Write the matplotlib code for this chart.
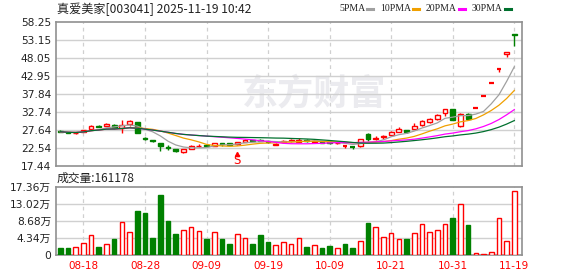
import matplotlib
matplotlib.use('Agg')
import matplotlib.pyplot as plt
import numpy as np
import pandas as pd
from matplotlib.lines import Line2D

W, H = 578, 276

stock_title = "真爱美家[003041] 2025-11-19 10:42"
dates = ["08-13", "08-14", "08-15", "08-18", "08-19", "08-20", "08-21", "08-22", "08-25", "08-26",
         "08-27", "08-28", "08-29", "09-01", "09-02", "09-03", "09-04", "09-05", "09-08", "09-09",
         "09-10", "09-11", "09-12", "09-15", "09-16", "09-17", "09-18", "09-19", "09-22", "09-23",
         "09-24", "09-25", "09-26", "09-29", "09-30", "10-09", "10-10", "10-13", "10-14", "10-15",
         "10-16", "10-17", "10-20", "10-21", "10-22", "10-23", "10-24", "10-27", "10-28", "10-29",
         "10-30", "10-31", "11-10", "11-11", "11-12", "11-13", "11-14", "11-17", "11-18", "11-19"]

opens = [27.35, 26.9, 26.6, 27.1, 27.8, 28.6, 28.8, 28.9, 28.0, 29.2,
         29.8, 25.3, 24.6, 23.8, 22.65, 22.0, 21.35, 22.1, 22.9, 23.15,
         23.0, 23.75, 23.7, 23.5, 24.2, 24.55, 24.6, 24.3, 23.4, 24.0,
         24.3, 24.2, 24.55, 24.2, 24.1, 24.0, 23.7, 23.0, 22.8, 22.9,
         26.5, 25.1, 25.5, 26.0, 27.1, 27.5, 27.8, 28.9, 29.7, 30.7,
         32.4, 33.4, 28.55, 31.95, 33.8, 37.2, 41.0, 44.96, 49.15, 54.9]
highs = [27.45, 26.95, 26.9, 27.6, 28.95, 28.85, 29.4, 29.25, 30.4, 30.4,
         29.8, 25.6, 24.75, 23.85, 23.3, 22.05, 22.2, 23.2, 23.45, 23.3,
         23.8, 23.8, 23.75, 24.15, 25.1, 24.6, 25.0, 24.35, 23.7, 24.6,
         25.1, 25.2, 24.9, 24.7, 24.2, 24.1, 23.85, 23.05, 22.85, 25.0,
         26.6, 25.8, 26.1, 27.2, 28.3, 27.6, 29.4, 30.4, 30.9, 31.95,
         33.65, 33.4, 32.5, 32.24, 33.8, 37.2, 41.0, 45.0, 49.8, 54.9]
lows = [26.95, 26.6, 26.4, 27.0, 27.75, 28.3, 28.7, 27.9, 26.8, 28.7,
        26.8, 24.6, 24.25, 21.7, 21.9, 21.4, 21.1, 22.0, 22.8, 22.9,
        22.95, 23.1, 23.3, 23.4, 24.1, 24.3, 24.3, 23.9, 23.3, 23.95,
        24.2, 24.1, 24.2, 23.7, 23.8, 23.6, 23.6, 22.3, 22.2, 22.8,
        24.4, 24.7, 25.0, 25.95, 27.0, 26.7, 27.7, 28.65, 29.5, 30.35,
        31.6, 30.25, 28.5, 30.35, 33.8, 37.2, 41.0, 43.9, 48.3, 51.4]
closes = [27.05, 26.7, 26.75, 27.45, 28.75, 28.5, 29.3, 28.1, 29.0, 30.0,
          26.8, 24.95, 24.4, 23.1, 22.5, 21.45, 22.1, 23.1, 23.1, 22.95,
          23.75, 23.6, 23.4, 24.0, 24.8, 24.4, 24.4, 24.0, 23.6, 24.5,
          24.6, 24.6, 24.3, 24.3, 23.9, 23.7, 23.8, 23.0, 22.75, 24.95,
          25.0, 25.3, 25.7, 27.1, 27.9, 26.9, 28.6, 30.0, 30.6, 31.7,
          33.4, 30.25, 32.15, 30.7, 33.8, 37.2, 41.0, 45.0, 49.75, 54.6]
# volume in 万 (10k)
volumes = [1.85, 1.85, 2.0, 3.1, 5.1, 2.1, 2.85, 4.1, 8.4, 5.9,
           11.2, 10.7, 4.35, 15.2, 8.65, 5.45, 6.4, 7.15, 6.15, 4.1,
           5.9, 4.1, 2.95, 5.4, 4.35, 2.95, 5.1, 3.45, 2.6, 3.35,
           2.85, 4.45, 2.0, 2.7, 1.75, 2.25, 1.95, 2.8, 1.75, 3.7,
           8.05, 7.25, 4.7, 5.7, 4.2, 4.05, 5.7, 8.0, 5.95, 6.5,
           8.0, 9.35, 13.0, 7.55, 0.5, 0.25, 0.9, 9.5, 3.7, 16.1178]
vol_up = [0, 0, 1, 1, 1, 0, 1, 0, 1, 1,
          0, 0, 0, 0, 0, 0, 1, 1, 1, 0,
          1, 0, 0, 1, 1, 0, 0, 0, 1, 1,
          1, 1, 0, 1, 0, 0, 1, 0, 0, 1,
          0, 1, 1, 1, 1, 0, 1, 1, 1, 1,
          1, 0, 1, 0, 1, 1, 1, 1, 1, 1]
last_volume_label = "成交量:161178"

ma_periods = [5, 10, 20, 30]
ma_names = ["5PMA", "10PMA", "20PMA", "30PMA"]
ma_colors = ["#a0a0a0", "#f0a000", "#ff00ff", "#00702e"]

price_ticks = [17.44, 22.54, 27.64, 32.74, 37.84, 42.95, 48.05, 53.15, 58.25]
vol_ticks = [0, 4.34, 8.68, 13.02, 17.36]
vol_tick_labels = ["0", "4.34万", "8.68万", "13.02万", "17.36万"]
date_label_idx = [3, 11, 19, 27, 35, 43, 51, 59]
signal_idx = [23]
signal_text = "S"
watermark = "东方财富"

RED = "#ff0000"
GREEN = "#008000"
GRID = "#d0d0d0"
SPINE = "#909090"
TXT = "#222222"

plt.rcParams['font.family'] = ['DejaVu Sans', 'Noto Sans CJK SC']
CJK = ['Noto Sans CJK SC', 'DejaVu Sans']

fig = plt.figure(figsize=(W / 100, H / 100), dpi=100)
fig.patch.set_facecolor('white')

ax1 = fig.add_axes([56 / W, 1 - 165.5 / H, 466 / W, 143.5 / H])
ax2 = fig.add_axes([56 / W, 1 - 255.3 / H, 466 / W, 68.8 / H])

n = len(closes)
x = np.arange(n)
o = np.array(opens); c = np.array(closes); hi = np.array(highs); lo = np.array(lows)
up = c >= o
cols = np.where(up, RED, GREEN)

for ax in (ax1, ax2):
    ax.set_xlim(-0.56, 60.0)
    for s in ax.spines.values():
        s.set_color(SPINE)
        s.set_linewidth(1.2)
    ax.tick_params(length=0, labelsize=7.7, colors=TXT)
    for i in date_label_idx:
        ax.axvline(x[i], color=GRID, lw=0.9, ls=(0, (3, 3)), zorder=0)

# watermark
ax1.text(0.555, 0.5, watermark, transform=ax1.transAxes, ha='center', va='center',
         fontsize=26, color='#ebebef', fontweight='bold', family=CJK, zorder=0.5)

# price panel
ax1.set_ylim(price_ticks[0], price_ticks[-1])
ax1.set_yticks(price_ticks)
ax1.set_yticklabels([f"{t:.2f}" for t in price_ticks])
for t in price_ticks[1:-1]:
    ax1.axhline(t, color=GRID, lw=1, zorder=0.8)
ax1.set_xticks([])

ax1.vlines(x, lo, hi, colors=cols, lw=1, zorder=3)
flat = np.abs(c - o) < 0.08
bw = 0.62
mask = ~flat
ax1.bar(x[mask], np.abs(c - o)[mask], bottom=np.minimum(o, c)[mask], width=bw,
        facecolor=np.where(up, 'white', GREEN)[mask], edgecolor=cols[mask], lw=1, zorder=4)
ax1.hlines(c[flat], x[flat] - bw / 2, x[flat] + bw / 2, colors=cols[flat], lw=1.6, zorder=4)

cs = pd.Series(c)
for p, col in zip(ma_periods, ma_colors):
    ma = cs.rolling(p, min_periods=1).mean()
    ax1.plot(x, ma, color=col, lw=0.9, zorder=5)

for i in signal_idx:
    ax1.plot([x[i]], [lo[i] - 2.75], marker='^', ms=3, color=RED, zorder=6)
    ax1.text(x[i], lo[i] - 4.6, signal_text, color=RED, fontsize=8.5, ha='center', va='center', zorder=6)

# volume panel
v = np.array(volumes)
vu = np.array(vol_up).astype(bool)
ax2.set_ylim(vol_ticks[0], vol_ticks[-1])
ax2.set_yticks(vol_ticks)
ax2.set_yticklabels(vol_tick_labels)
for t in vol_ticks[1:-1]:
    ax2.axhline(t, color=GRID, lw=1, zorder=0.8)
ax2.bar(x, v, width=0.6, facecolor=np.where(vu, 'white', GREEN),
        edgecolor=np.where(vu, RED, GREEN), lw=1, zorder=3)
ax2.set_xticks(x[date_label_idx])
ax2.set_xticklabels([dates[i] for i in date_label_idx], color=RED, fontsize=7.5)
ax2.tick_params(axis='x', pad=4)

# texts
fig.text(57 / W, 1 - 9 / H, stock_title, fontsize=8.7, family=CJK, color=TXT, va='center', ha='left')
fig.text(57 / W, 1 - 178 / H, last_volume_label, fontsize=8.5, family=CJK, color=TXT, va='center', ha='left')

# legend
fig.canvas.draw()
r = fig.canvas.get_renderer()
legend_x = [339, 380, 426, 472]
ly = 1 - 8.5 / H
for lx, name, col in zip(legend_x, ma_names, ma_colors):
    t = fig.text(lx / W, ly, name, fontsize=7.0, family=['Liberation Serif'], color=TXT, va='center', ha='left')
    bb = t.get_window_extent(renderer=r)
    x0 = bb.x1 + 2
    fig.add_artist(Line2D([x0 / W, (x0 + 6) / W], [ly, ly], color=col, lw=2.2, transform=fig.transFigure))

fig.savefig("out.png", dpi=100)
